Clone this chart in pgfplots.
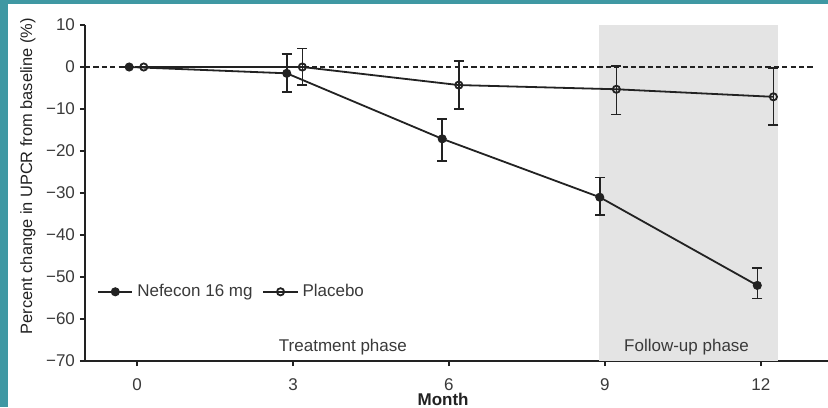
\documentclass[border=0pt]{standalone}
\usepackage{pgfplots}
\pgfplotsset{compat=1.18}
\usepackage{pgfplotstable}
\usepackage{fontspec}
\setmainfont{Liberation Sans}
\definecolor{teal1}{HTML}{3F98A3}
\definecolor{ink}{HTML}{222222}
\definecolor{txt}{HTML}{3A3A3A}
\definecolor{shade}{HTML}{E4E4E4}
\pgfplotstableread{
x y ep em
-0.15 0 0 0
2.88 -1.5 4.6 4.5
5.87 -17.1 4.7 5.3
8.90 -31.0 4.7 4.2
11.93 -52.0 4.1 3.1
}\nefecon
\pgfplotstableread{
x y ep em
0.13 0 0 0
3.18 0 4.4 4.3
6.19 -4.3 5.8 5.7
9.22 -5.3 5.6 6.0
12.24 -7.1 6.8 6.7
}\placebo
\begin{document}
\begin{tikzpicture}
\fill[white] (-42.5pt,-23pt) rectangle (371.5pt,180.5pt);
\fill[teal1] (-42.5pt,-23pt) rectangle (-38.5pt,180.5pt);
\fill[teal1] (-42.5pt,178.5pt) rectangle (371.5pt,180.5pt);
\begin{axis}[
  at={(0,0)}, anchor=south west,
  scale only axis, width=371.5pt, height=168pt,
  xmin=-1, xmax=13.29, ymin=-70, ymax=10,
  axis x line*=bottom, axis y line*=left,
  axis line style={ink, line width=0.75pt},
  every tick/.style={ink, line width=0.75pt},
  tick align=outside, major tick length=2.5pt,
  xtick={0,3,6,9,12},
  ytick={-70,-60,-50,-40,-30,-20,-10,0,10},
  yticklabels={−70,−60,−50,−40,−30,−20,−10,0,10},
  /pgf/number format/assume math mode=true,
  tick label style={font=\fontsize{8.5}{10}\selectfont, text=txt},
  xticklabel style={yshift=-3pt},
  yticklabel style={xshift=1pt},
  xlabel={\textbf{Month}},
  xlabel style={font=\fontsize{8.5}{10}\selectfont, text=ink, at={(axis description cs:0.482,-0.113)}, anchor=center},
  ylabel={Percent change in UPCR from baseline (\%)},
  ylabel style={font=\fontsize{8.2}{10}\selectfont, text=ink, at={(axis description cs:-0.0767,0.55)}, anchor=center},
  legend style={at={(axis description cs:0.008,0.206)}, anchor=west, draw=none, fill=none,
    font=\fontsize{8.5}{10}\selectfont, text=txt, legend columns=2,
    /tikz/every even column/.append style={column sep=3pt}},
  legend cell align=left,
  clip=false,
]
\addplot[fill=shade, draw=none, forget plot] coordinates {(8.88,-70) (8.88,10) (12.33,10) (12.33,-70)} -- cycle;
\addplot[ink, line width=0.8pt, dash pattern=on 2.6pt off 1.6pt, forget plot] coordinates {(-1,0) (13.0,0)};
\addplot[ink, line width=0.9pt, mark=*, mark size=1.8pt, mark options={fill=ink, solid},
  error bars/.cd, y dir=both, y explicit, error mark options={rotate=90, mark size=2.5pt, line width=0.8pt}, error bar style={line width=0.8pt}]
  table[x=x, y=y, y error plus=ep, y error minus=em] {\nefecon};
\addlegendentry{Nefecon 16 mg}
\addplot[ink, line width=0.9pt, mark=o, mark size=1.8pt, mark options={fill=white, solid},
  error bars/.cd, y dir=both, y explicit, error mark options={rotate=90, mark size=2.5pt, line width=0.8pt}, error bar style={line width=0.8pt}]
  table[x=x, y=y, y error plus=ep, y error minus=em] {\placebo};
\addlegendentry{Placebo}
\node[font=\fontsize{8.5}{10}\selectfont, text=txt] at (axis cs:3.96,-66.7) {Treatment phase};
\node[font=\fontsize{8.5}{10}\selectfont, text=txt] at (axis cs:10.57,-66.6) {Follow-up phase};
\end{axis}
\pgfresetboundingbox
\useasboundingbox (-42.5pt,-23pt) rectangle (371.5pt,180.5pt);
\end{tikzpicture}
\end{document}
